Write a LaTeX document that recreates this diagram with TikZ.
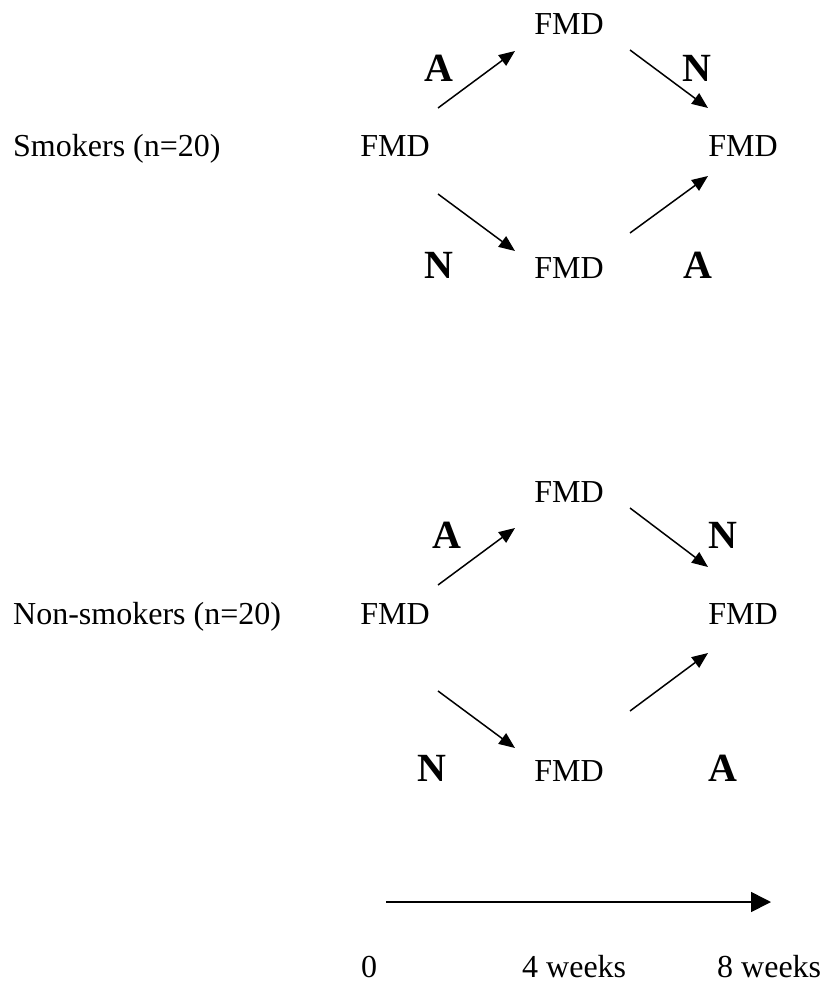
\documentclass[tikz,border=0pt]{standalone}
\usepackage{fontspec}
\setmainfont{Liberation Serif}
\usetikzlibrary{arrows.meta}
\begin{document}
\begin{tikzpicture}[x=1pt,y=-1pt,
  lbl/.style={inner sep=0pt, font=\fontsize{32}{38}\selectfont},
  big/.style={inner sep=0pt, font=\fontsize{40}{46}\selectfont\bfseries},
  flow/.style={line width=1.5pt, -{Triangle[length=16pt,width=13pt]}},
  axis/.style={line width=1.6pt, -{Triangle[length=20pt,width=20pt]}}]
\useasboundingbox (0,0) rectangle (824,987);
% ---- Smokers
\node[lbl, anchor=base west] (s) at (13,157) {Smokers (n=20)};
\node[lbl, anchor=base] (s0) at (395,157) {FMD};
\node[lbl, anchor=base] (s1) at (569,35) {FMD};
\node[lbl, anchor=base] (s2) at (569,278) {FMD};
\node[lbl, anchor=base] (s3) at (743,157) {FMD};
\node[big, anchor=base] (sa1) at (439,82) {A};
\node[big, anchor=base] (sn1) at (697,82) {N};
\node[big, anchor=base] (sn2) at (439,278) {N};
\node[big, anchor=base] (sa2) at (698,278) {A};
\coordinate (s0u) at (438,108);
\coordinate (s1l) at (515,51);
\coordinate (s1r) at (630,50);
\coordinate (s3u) at (708,108);
\coordinate (s0d) at (438,194);
\coordinate (s2l) at (515,251);
\coordinate (s2r) at (630,233);
\coordinate (s3d) at (708,176);
\draw[flow] (s0u) -- (s1l);
\draw[flow] (s1r) -- (s3u);
\draw[flow] (s0d) -- (s2l);
\draw[flow] (s2r) -- (s3d);
% ---- Non-smokers
\node[lbl, anchor=base west] (n) at (13,624) {Non-smokers (n=20)};
\node[lbl, anchor=base] (n0) at (395,624) {FMD};
\node[lbl, anchor=base] (n1) at (569,502) {FMD};
\node[lbl, anchor=base] (n2) at (569,781) {FMD};
\node[lbl, anchor=base] (n3) at (743,624) {FMD};
\node[big, anchor=base] (na1) at (447,548) {A};
\node[big, anchor=base] (nn1) at (723,548) {N};
\node[big, anchor=base] (nn2) at (432,781) {N};
\node[big, anchor=base] (na2) at (723,781) {A};
\coordinate (n0u) at (438,585);
\coordinate (n1l) at (515,528);
\coordinate (n1r) at (630,508);
\coordinate (n3u) at (708,567);
\coordinate (n0d) at (438,691);
\coordinate (n2l) at (515,748);
\coordinate (n2r) at (630,711);
\coordinate (n3d) at (708,653);
\draw[flow] (n0u) -- (n1l);
\draw[flow] (n1r) -- (n3u);
\draw[flow] (n0d) -- (n2l);
\draw[flow] (n2r) -- (n3d);
% ---- time axis
\coordinate (t0) at (386,902);
\coordinate (t1) at (771,902);
\draw[axis] (t0) -- (t1);
\node[lbl, anchor=base] (w0) at (369,977) {0};
\node[lbl, anchor=base west] (w4) at (522,977) {4 weeks};
\node[lbl, anchor=base west] (w8) at (717,977) {8 weeks};
\end{tikzpicture}
\end{document}
